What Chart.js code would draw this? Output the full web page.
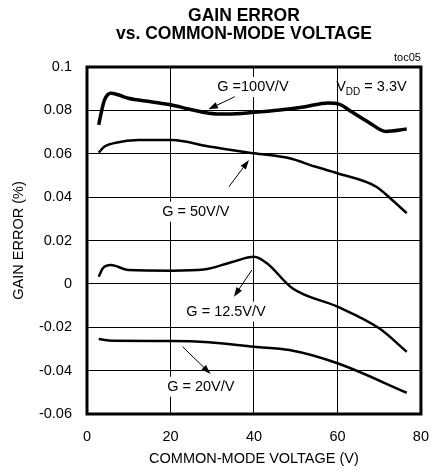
<!DOCTYPE html>
<html>
<head>
<meta charset="utf-8">
<script src="https://cdn.jsdelivr.net/npm/chart.js@4.4.1/dist/chart.umd.min.js"></script>
<style>
  html, body { margin: 0; padding: 0; background: #fff; }
  #wrap { width: 443px; height: 475px; }
</style>
</head>
<body>
<div id="wrap"><canvas id="grafico"></canvas></div>
<script>
// Valores (tensão de modo comum em V, erro de ganho em %)
const xG100 = [2.8, 3.2, 4.2, 5.7, 7.6, 9.9, 15.3, 20.3, 24.6, 29.2, 33.8, 40, 46.2, 52.3, 57.7, 60.5, 63.5, 67.7, 71.6, 76.6];
const yG100 = [0.0733, 0.0771, 0.0848, 0.0879, 0.0871, 0.0856, 0.0840, 0.0825, 0.0805, 0.0787, 0.0783, 0.0791, 0.0802, 0.0817, 0.0834, 0.0828, 0.0792, 0.0742, 0.0703, 0.0714];

const xG50 = [2.8, 4.2, 6.9, 12.3, 20.3, 29.2, 40, 48.5, 54.6, 60, 69.3, 73.1, 76.6];
const yG50 = [0.0605, 0.0633, 0.0651, 0.0663, 0.0663, 0.0633, 0.0602, 0.0579, 0.0541, 0.0510, 0.0448, 0.0387, 0.0326];

const xG125 = [2.8, 3.8, 5.7, 9.9, 20.3, 28, 34.6, 40, 43.1, 49.2, 60, 70, 76.6];
const yG125 = [0.0033, 0.0072, 0.0087, 0.0064, 0.0061, 0.0066, 0.0100, 0.0125, 0.0095, -0.0020, -0.0105, -0.0205, -0.0313];

const xG20 = [2.8, 6.1, 20.3, 29.2, 40, 48.5, 60, 76.6];
const yG20 = [-0.0254, -0.0262, -0.0263, -0.0269, -0.0290, -0.0305, -0.0366, -0.0502];

const xTicks = [0, 20, 40, 60, 80];
const yTicks = [0.1, 0.08, 0.06, 0.04, 0.02, 0, -0.02, -0.04, -0.06];
const yTickLabels = ['0.1', '0.08', '0.06', '0.04', '0.02', '0', '-0.02', '-0.04', '-0.06'];

// Rótulos das curvas: texto, posição do texto e seta (em coordenadas de dados)
const rotulos = [
  { texto: 'G =100V/V', x: 31.2, y: 0.0908, seta: [35.4, 0.0863, 29.1, 0.0805] },
  { texto: 'G = 50V/V', x: 18.0, y: 0.0333, seta: [34.0, 0.0448, 38.8, 0.0571] },
  { texto: 'G = 12.5V/V', x: 23.8, y: -0.0128, seta: [39.5, 0.0064, 35.2, -0.0059] },
  { texto: 'G = 20V/V', x: 19.2, y: -0.0474, seta: [22.9, -0.0290, 29.6, -0.0415] }
];

const FONTE = "'Liberation Sans', Arial, sans-serif";

function pontos(xs, ys) {
  return xs.map((x, i) => ({ x: x, y: ys[i] }));
}

function serie(xs, ys, largura) {
  return {
    data: pontos(xs, ys),
    borderColor: '#000',
    borderWidth: largura,
    pointRadius: 0,
    fill: false,
    tension: 0.4,
    cubicInterpolationMode: 'monotone'
  };
}

function seta(ctx, x1, y1, x2, y2) {
  const ang = Math.atan2(y2 - y1, x2 - x1);
  const tam = 10;
  ctx.beginPath();
  ctx.moveTo(x1, y1);
  ctx.lineTo(x2 - Math.cos(ang) * tam * 0.8, y2 - Math.sin(ang) * tam * 0.8);
  ctx.lineWidth = 1;
  ctx.strokeStyle = '#000';
  ctx.stroke();
  ctx.beginPath();
  ctx.moveTo(x2, y2);
  ctx.lineTo(x2 - tam * Math.cos(ang - 0.33), y2 - tam * Math.sin(ang - 0.33));
  ctx.lineTo(x2 - tam * Math.cos(ang + 0.33), y2 - tam * Math.sin(ang + 0.33));
  ctx.closePath();
  ctx.fillStyle = '#000';
  ctx.fill();
}

// Moldura, título e anotações
const pluginTextos = {
  id: 'textos',
  beforeDatasetsDraw(chart) {
    const ctx = chart.ctx;
    const sx = chart.scales.x, sy = chart.scales.y;
    ctx.save();
    ctx.font = '14.5px ' + FONTE;
    rotulos.forEach(r => {
      const px = sx.getPixelForValue(r.x), py = sy.getPixelForValue(r.y);
      const w = ctx.measureText(r.texto).width;
      ctx.fillStyle = '#fff';
      ctx.fillRect(px - 2, py - 10, w + 4, 20);
    });
    ctx.restore();
  },
  afterDraw(chart) {
    const ctx = chart.ctx;
    const a = chart.chartArea;
    const sx = chart.scales.x, sy = chart.scales.y;
    ctx.save();
    ctx.lineWidth = 3;
    ctx.strokeStyle = '#000';
    ctx.strokeRect(a.left, a.top, a.right - a.left, a.bottom - a.top);

    // título
    ctx.fillStyle = '#000';
    ctx.textAlign = 'center';
    ctx.textBaseline = 'middle';
    ctx.font = 'bold 17.5px ' + FONTE;
    const cx = (a.left + a.right) / 2 - 10;
    ctx.fillText('GAIN ERROR', cx, 16);
    ctx.fillText('vs. COMMON-MODE VOLTAGE', cx, 34);

    ctx.font = '11px ' + FONTE;
    ctx.textAlign = 'right';
    ctx.fillText('toc05', a.right, a.top - 9);

    // rótulos das curvas
    ctx.textAlign = 'left';
    ctx.font = '14.5px ' + FONTE;
    rotulos.forEach(r => {
      ctx.fillText(r.texto, sx.getPixelForValue(r.x), sy.getPixelForValue(r.y));
      const s = r.seta;
      seta(ctx, sx.getPixelForValue(s[0]), sy.getPixelForValue(s[1]),
                sx.getPixelForValue(s[2]), sy.getPixelForValue(s[3]));
    });

    // V_DD = 3.3V
    let vx = sx.getPixelForValue(59.7);
    const vy = sy.getPixelForValue(0.0908);
    ctx.fillText('V', vx, vy);
    vx += ctx.measureText('V').width;
    ctx.font = '10px ' + FONTE;
    ctx.fillText('DD', vx, vy + 5);
    vx += ctx.measureText('DD').width;
    ctx.font = '14.5px ' + FONTE;
    ctx.fillText(' = 3.3V', vx, vy);
    ctx.restore();
  }
};

const ctx = document.getElementById('grafico').getContext('2d');
new Chart(ctx, {
  type: 'line',
  data: {
    datasets: [
      serie(xG100, yG100, 3.5),
      serie(xG50, yG50, 2.5),
      serie(xG125, yG125, 2.5),
      serie(xG20, yG20, 2.5)
    ]
  },
  options: {
    responsive: true,
    maintainAspectRatio: false,
    animation: false,
    layout: { padding: { top: 67, right: 10, left: 0, bottom: 0 } },
    plugins: {
      legend: { display: false },
      tooltip: { enabled: false },
      title: { display: false }
    },
    scales: {
      x: {
        type: 'linear',
        min: 0, max: 80,
        afterBuildTicks: s => { s.ticks = xTicks.map(v => ({ value: v })); },
        afterFit: s => { s.height = 61; },
        grid: { color: '#000', lineWidth: 1, drawTicks: false },
        border: { display: false },
        ticks: { color: '#000', padding: 14, font: { family: FONTE, size: 14.5 } },
        title: {
          display: true, text: 'COMMON-MODE VOLTAGE (V)', color: '#000',
          padding: { top: 0, bottom: 7 }, font: { family: FONTE, size: 14.5 }
        }
      },
      y: {
        type: 'linear',
        min: -0.06, max: 0.1,
        afterBuildTicks: s => { s.ticks = yTicks.map(v => ({ value: v })); },
        afterFit: s => { s.width = 87; },
        grid: { color: '#000', lineWidth: 1, drawTicks: false },
        border: { display: false },
        ticks: {
          color: '#000', padding: 15, font: { family: FONTE, size: 14.5 },
          callback: (v, i) => yTickLabels[i]
        },
        title: {
          display: true, text: 'GAIN ERROR (%)', color: '#000',
          padding: 10, font: { family: FONTE, size: 14.5 }
        }
      }
    }
  },
  plugins: [pluginTextos]
});
</script>
</body>
</html>
